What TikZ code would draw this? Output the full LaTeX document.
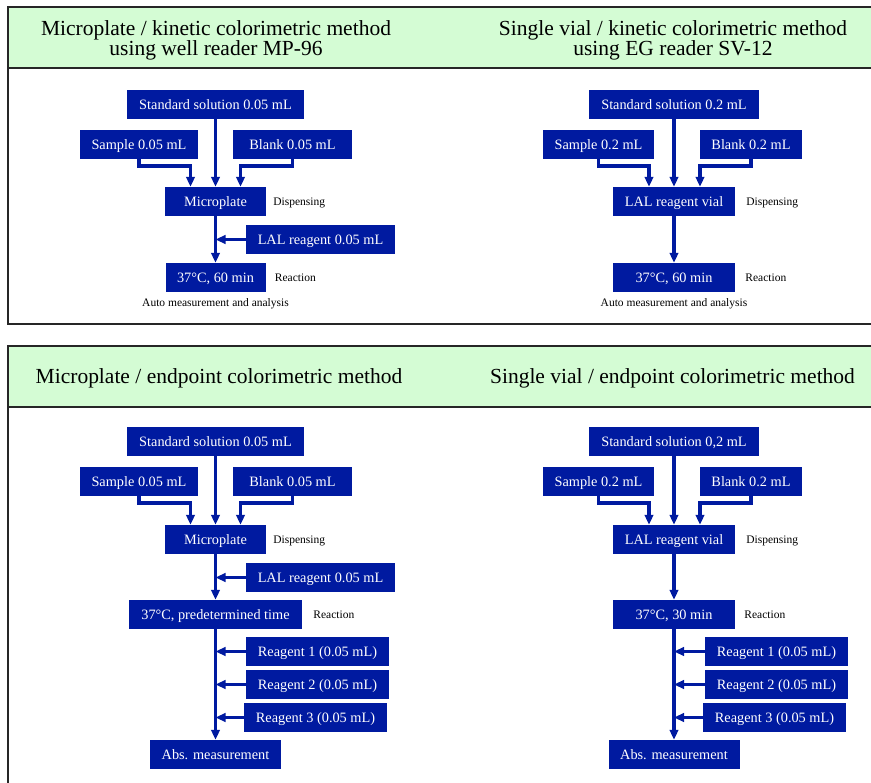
\documentclass[tikz,border=0pt]{standalone}
\usepackage{fontspec}
\setmainfont{Liberation Serif}
\usetikzlibrary{arrows.meta,positioning,calc}
\definecolor{boxblue}{RGB}{0,26,160}
\definecolor{headgreen}{RGB}{212,252,212}
\tikzstyle{frame} = [draw=black!85, line width=1.6pt]
\tikzstyle{title} = [font=\fontsize{21.5}{20}\selectfont, align=center]
\tikzstyle{stage} = [rectangle, fill=boxblue, text=white, minimum height=29pt, inner sep=0pt, text height=11.5pt, text depth=1pt, font=\fontsize{14.3}{16}\selectfont]
\tikzstyle{note} = [font=\fontsize{11.5}{13}\selectfont, inner sep=0pt, text height=9pt, text depth=1pt]
\tikzstyle{flow} = [draw=boxblue, line width=3.4pt, -{Triangle[length=10pt,width=8.5pt]}]

\begin{document}
\begin{tikzpicture}[x=1pt, y=-1pt]
	\useasboundingbox (0,0) rectangle (871,783);
	
	%panels
	\fill[headgreen] (8,7) rectangle (872,68);
	\draw[frame] (872,7) -- (8,7) -- (8,324) -- (872,324);
	\draw[frame] (8,68) -- (872,68);
	\fill[headgreen] (8,346) rectangle (872,407);
	\draw[frame] (872,346) -- (8,346) -- (8,784);
	\draw[frame] (8,407) -- (872,407);
	
	\node[title] (head1) at (216,40) {Microplate / kinetic colorimetric method\\using well reader MP-96};
	\node[title] (head2) at (673,40) {Single vial / kinetic colorimetric method\\using EG reader SV-12};
	\node[title] (head3) at (219,378) {Microplate / endpoint colorimetric method};
	\node[title] (head4) at (672.5,378) {Single vial / endpoint colorimetric method};
	
	%microplate, kinetic
	\node[stage, minimum width=177pt] (std1) at (215.5,104.5) {Standard solution 0.05 mL};
	\node[stage, minimum width=118pt] (smp1) at (139,144.5) {Sample 0.05 mL};
	\node[stage, minimum width=119pt] (blk1) at (292.5,144.5) {Blank 0.05 mL};
	\node[stage, minimum width=101pt] (mp1) at (215.5,201.5) {Microplate};
	\node[stage, minimum width=149pt] (lal1) at (320.5,239.5) {LAL reagent 0.05 mL};
	\node[stage, minimum width=100pt] (rx1) at (215.5,277.5) {37°C, 60 min};
	\node[note, right=7pt of mp1] (disp1) {Dispensing};
	\node[note, right=9pt of rx1] (react1) {Reaction};
	\node[note, below=5pt of rx1] (auto1) {Auto measurement and analysis};
	
	%single vial, kinetic
	\node[stage, minimum width=170pt] (std2) at (674,104.5) {Standard solution 0.2 mL};
	\node[stage, minimum width=111pt] (smp2) at (598.5,144.5) {Sample 0.2 mL};
	\node[stage, minimum width=102pt] (blk2) at (751,144.5) {Blank 0.2 mL};
	\node[stage, minimum width=122pt] (vial2) at (674,201.5) {LAL reagent vial};
	\node[stage, minimum width=122pt] (rx2) at (674,277.5) {37°C, 60 min};
	\node[note, right=11pt of vial2] (disp2) {Dispensing};
	\node[note, right=10pt of rx2] (react2) {Reaction};
	\node[note, below=5pt of rx2] (auto2) {Auto measurement and analysis};
	
	%microplate, endpoint
	\node[stage, minimum width=177pt] (std3) at (215.5,441.5) {Standard solution 0.05 mL};
	\node[stage, minimum width=118pt] (smp3) at (139,481.5) {Sample 0.05 mL};
	\node[stage, minimum width=119pt] (blk3) at (292.5,481.5) {Blank 0.05 mL};
	\node[stage, minimum width=101pt] (mp3) at (215.5,539.5) {Microplate};
	\node[stage, minimum width=149pt] (lal3) at (320.5,577.5) {LAL reagent 0.05 mL};
	\node[stage, minimum width=173pt] (rx3) at (215.5,614.5) {37°C, predetermined time};
	\node[stage, minimum width=143pt] (rga3) at (317.5,651.5) {Reagent 1 (0.05 mL)};
	\node[stage, minimum width=143pt] (rgb3) at (317.5,684.5) {Reagent 2 (0.05 mL)};
	\node[stage, minimum width=143pt] (rgc3) at (315.5,717.5) {Reagent 3 (0.05 mL)};
	\node[stage, minimum width=131pt] (abs3) at (215.5,754.5) {Abs. measurement};
	\node[note, right=7pt of mp3] (disp3) {Dispensing};
	\node[note, right=11pt of rx3] (react3) {Reaction};
	
	%single vial, endpoint
	\node[stage, minimum width=170pt] (std4) at (674,441.5) {Standard solution 0,2 mL};
	\node[stage, minimum width=111pt] (smp4) at (598.5,481.5) {Sample 0.2 mL};
	\node[stage, minimum width=102pt] (blk4) at (751,481.5) {Blank 0.2 mL};
	\node[stage, minimum width=122pt] (vial4) at (674,539.5) {LAL reagent vial};
	\node[stage, minimum width=122pt] (rx4) at (674,614.5) {37°C, 30 min};
	\node[stage, minimum width=143pt] (rga4) at (776.5,651.5) {Reagent 1 (0.05 mL)};
	\node[stage, minimum width=143pt] (rgb4) at (776.5,684.5) {Reagent 2 (0.05 mL)};
	\node[stage, minimum width=143pt] (rgc4) at (774.5,717.5) {Reagent 3 (0.05 mL)};
	\node[stage, minimum width=131pt] (abs4) at (674,754.5) {Abs. measurement};
	\node[note, right=11pt of vial4] (disp4) {Dispensing};
	\node[note, right=9pt of rx4] (react4) {Reaction};
	
	%arrows
	\draw[flow] (std1) -- (mp1);
	\draw[flow] (smp1.south) -- ++(0,7) -| ([xshift=-25pt]mp1.north);
	\draw[flow] (blk1.south) -- ++(0,7) -| ([xshift=25pt]mp1.north);
	\draw[flow] (mp1) -- (rx1);
	\draw[flow] (lal1.west) -- (lal1.west -| mp1.south);
	
	\draw[flow] (std2) -- (vial2);
	\draw[flow] (smp2.south) -- ++(0,7) -| ([xshift=-25pt]vial2.north);
	\draw[flow] (blk2.south) -- ++(0,7) -| ([xshift=26pt]vial2.north);
	\draw[flow] (vial2) -- (rx2);
	
	\draw[flow] (std3) -- (mp3);
	\draw[flow] (smp3.south) -- ++(0,7) -| ([xshift=-25pt]mp3.north);
	\draw[flow] (blk3.south) -- ++(0,7) -| ([xshift=25pt]mp3.north);
	\draw[flow] (mp3) -- (rx3);
	\draw[flow] (lal3.west) -- (lal3.west -| mp3.south);
	\draw[flow] (rx3) -- (abs3);
	\draw[flow] (rga3.west) -- (rga3.west -| rx3.south);
	\draw[flow] (rgb3.west) -- (rgb3.west -| rx3.south);
	\draw[flow] (rgc3.west) -- (rgc3.west -| rx3.south);
	
	\draw[flow] (std4) -- (vial4);
	\draw[flow] (smp4.south) -- ++(0,7) -| ([xshift=-25pt]vial4.north);
	\draw[flow] (blk4.south) -- ++(0,7) -| ([xshift=26pt]vial4.north);
	\draw[flow] (vial4) -- (rx4);
	\draw[flow] (rx4) -- (abs4);
	\draw[flow] (rga4.west) -- (rga4.west -| rx4.south);
	\draw[flow] (rgb4.west) -- (rgb4.west -| rx4.south);
	\draw[flow] (rgc4.west) -- (rgc4.west -| rx4.south);
\end{tikzpicture}
\end{document}
